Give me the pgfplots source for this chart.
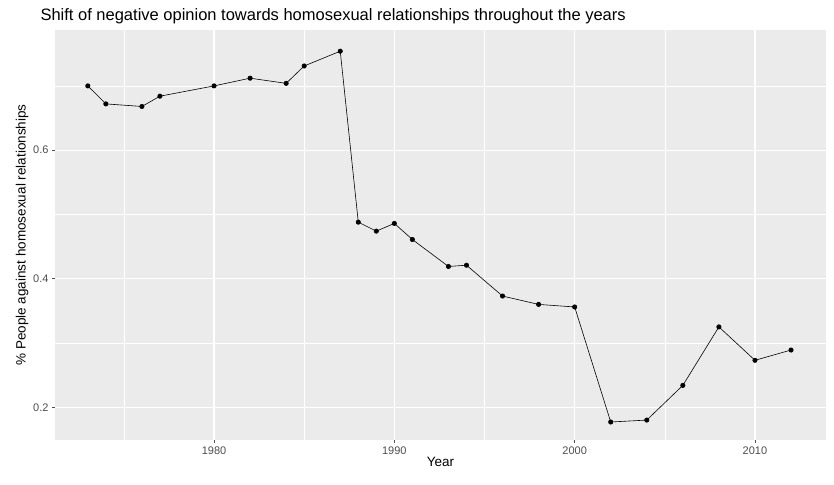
\documentclass[border=0pt]{standalone}
\usepackage{pgfplots}
\pgfplotsset{compat=1.18}
\usepackage{fontspec}
\setmainfont{Liberation Sans}
\definecolor{panel}{HTML}{EBEBEB}
\definecolor{tickc}{HTML}{4D4D4D}
\begin{document}
\begin{tikzpicture}
\useasboundingbox (-55pt,-44pt) rectangle (779pt,440pt);
\begin{axis}[
  at={(0,0)}, anchor=south west,
  scale only axis, width=771pt, height=410pt,
  xmin=1971.18, xmax=2013.94, ymin=0.149, ymax=0.787,
  axis background/.style={fill=panel},
  axis line style={draw=none},
  major tick length=3pt, tick style={tickc, line width=0.6pt},
  tick align=outside, xtick pos=bottom, ytick pos=left,
  xtick={1980,1990,2000,2010}, ytick={0.2,0.4,0.6},
  minor xtick={1975,1985,1995,2005}, minor ytick={0.3,0.5,0.7},
  minor tick length=0pt,
  xticklabel style={/pgf/number format/1000 sep={}},
  yticklabel style={/pgf/number format/fixed, /pgf/number format/precision=1},
  /pgf/number format/assume math mode=true,
  ticklabel style={font=\fontsize{11}{13}\selectfont, text=tickc},
  grid=both, major grid style={white, line width=1.2pt}, minor grid style={white, line width=0.5pt},
  xlabel={Year}, ylabel={\% People against homosexual relationships},
  label style={font=\fontsize{13.5}{15}\selectfont},
  xlabel style={yshift=4pt}, ylabel style={yshift=-2pt},
  title={Shift of negative opinion towards homosexual relationships throughout the years},
  title style={font=\fontsize{16.5}{18}\selectfont, anchor=south west, at={(rel axis cs:0,1)}, xshift=-18pt, yshift=-3pt},
]
\addplot[black, line width=0.6pt, mark=*, mark size=2.2pt] coordinates {
(1973,0.700)(1974,0.672)(1976,0.668)(1977,0.684)(1980,0.700)(1982,0.712)(1984,0.704)(1985,0.731)(1987,0.754)(1988,0.488)(1989,0.474)(1990,0.486)(1991,0.461)(1993,0.419)(1994,0.421)(1996,0.373)(1998,0.360)(2000,0.356)(2002,0.177)(2004,0.180)(2006,0.234)(2008,0.325)(2010,0.273)(2012,0.289)};
\end{axis}
\end{tikzpicture}
\end{document}
